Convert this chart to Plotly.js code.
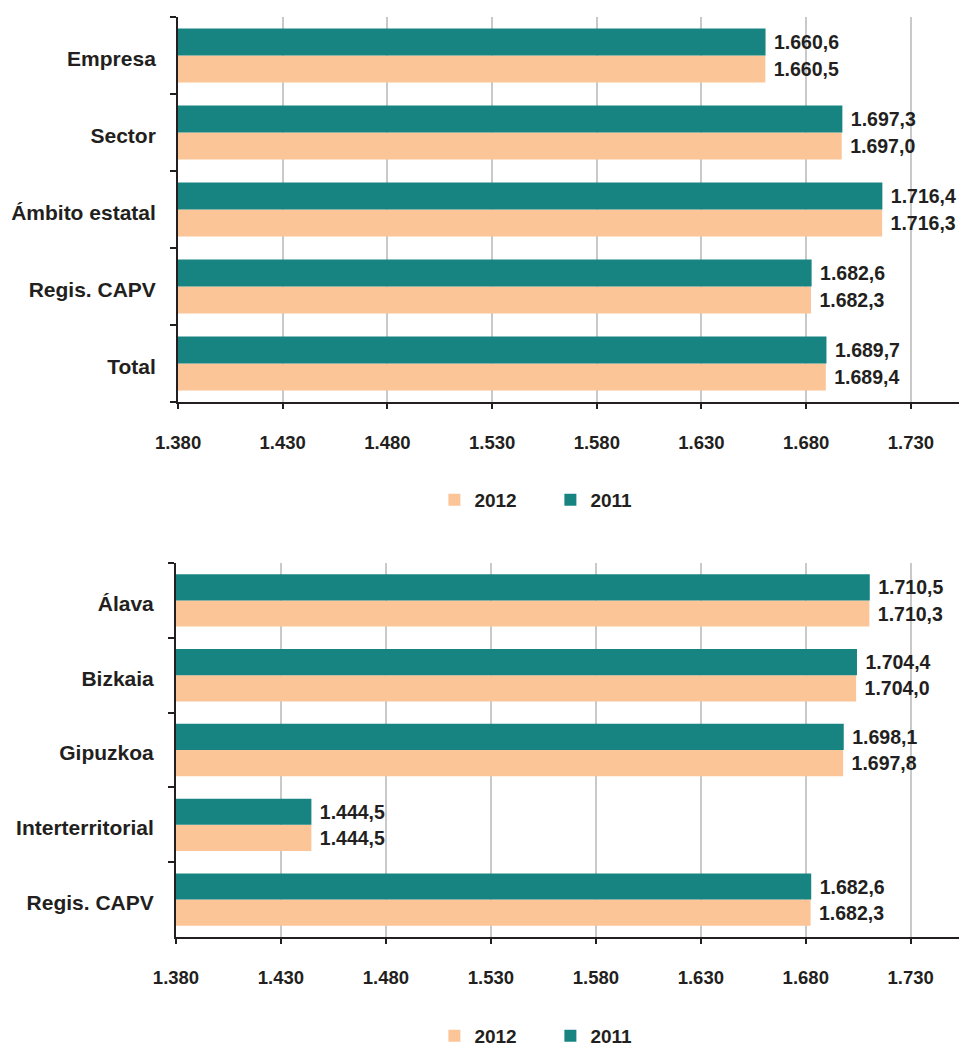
<!DOCTYPE html>
<html>
<head>
<meta charset="utf-8">
<script src="https://cdn.plot.ly/plotly-3.0.1.min.js"></script>
<style>
html,body{margin:0;padding:0;background:#fff;}
#chart{width:961px;height:1048px;}
</style>
</head>
<body>
<div id="chart"></div>
<script>
// Data (categories listed top to bottom as in the picture)
const topCategories = ['Empresa', 'Sector', 'Ámbito estatal', 'Regis. CAPV', 'Total'];
const top2012 = [1660.5, 1697.0, 1716.3, 1682.3, 1689.4];
const top2011 = [1660.6, 1697.3, 1716.4, 1682.6, 1689.7];

const bottomCategories = ['Álava', 'Bizkaia', 'Gipuzkoa', 'Interterritorial', 'Regis. CAPV'];
const bottom2012 = [1710.3, 1704.0, 1697.8, 1444.5, 1682.3];
const bottom2011 = [1710.5, 1704.4, 1698.1, 1444.5, 1682.6];

const seriesNames = ['2012', '2011'];
const xTickValues = [1380, 1430, 1480, 1530, 1580, 1630, 1680, 1730];

const TEAL = '#188482';
const PEACH = '#fcc598';
const INK = '#231f20';
const FONT = '"Liberation Sans", Arial, Helvetica, sans-serif';

function barTrace(name, cats, vals, color, xa, ya, legend) {
  const tf = {family: FONT, size: 19.5, color: INK, weight: 'bold'};
  return {
    type: 'bar', orientation: 'h', name: name,
    y: cats, x: vals,
    xaxis: xa, yaxis: ya, legend: legend, showlegend: true,
    marker: {color: color, line: {width: 0}},
    texttemplate: '\u00a0%{x:,.1f}',
    textposition: 'outside',
    constraintext: 'none',
    cliponaxis: false,
    textfont: tf,
    outsidetextfont: tf,
    hoverinfo: 'skip'
  };
}

const data = [
  barTrace(seriesNames[0], topCategories, top2012, PEACH, 'x', 'y', 'legend'),
  barTrace(seriesNames[1], topCategories, top2011, TEAL, 'x', 'y', 'legend'),
  barTrace(seriesNames[0], bottomCategories, bottom2012, PEACH, 'x2', 'y2', 'legend2'),
  barTrace(seriesNames[1], bottomCategories, bottom2011, TEAL, 'x2', 'y2', 'legend2')
];

function xAxis(domain, anchor) {
  return {
    domain: domain, anchor: anchor,
    range: [1380, 1753], autorange: false,
    tickvals: xTickValues, tickformat: ',d',
    showgrid: true, gridcolor: '#c9c9c9', gridwidth: 2,
    zeroline: false,
    showline: true, linecolor: INK, linewidth: 2,
    ticks: 'outside', ticklen: 5, tickwidth: 2, tickcolor: INK,
    ticklabelstandoff: 18,
    tickfont: {family: FONT, size: 18.5, color: INK, weight: 'bold'},
    fixedrange: true
  };
}
function yAxis(domain, anchor, cats) {
  return {
    domain: domain, anchor: anchor,
    type: 'category',
    categoryorder: 'array', categoryarray: cats.slice().reverse(),
    tickson: 'boundaries',
    ticks: 'outside', ticklen: 6, tickwidth: 2, tickcolor: INK,
    showline: true, linecolor: INK, linewidth: 2,
    showgrid: false, zeroline: false,
    ticklabelstandoff: 16,
    ticklabelshift: 3,
    tickfont: {family: FONT, size: 21, color: INK, weight: 'bold'},
    fixedrange: true
  };
}

const legendBase = {
  orientation: 'h', xanchor: 'left', yanchor: 'middle',
  font: {family: FONT, size: 19, color: INK, weight: 'bold'},
  entrywidth: 71, entrywidthmode: 'pixels',
  traceorder: 'normal', bgcolor: 'rgba(0,0,0,0)'
};

const layout = {
  width: 961, height: 1048,
  margin: {l: 176, r: 2, t: 17, b: 111, autoexpand: false},
  paper_bgcolor: '#ffffff', plot_bgcolor: '#ffffff',
  separators: ',.',
  barmode: 'group', bargap: 0.3, bargroupgap: 0,
  showlegend: true,
  xaxis: xAxis([0.0026, 1], 'y'),
  yaxis: yAxis([0.5815, 1], 'x', topCategories),
  xaxis2: xAxis([0, 1], 'y2'),
  yaxis2: yAxis([0, 0.4065], 'x2', bottomCategories),
  legend: Object.assign({}, legendBase, {x: 0.33, y: 0.475}),
  legend2: Object.assign({}, legendBase, {x: 0.33, y: -0.1076})
};

Plotly.newPlot('chart', data, layout, {staticPlot: true, displayModeBar: false});
</script>
</body>
</html>
